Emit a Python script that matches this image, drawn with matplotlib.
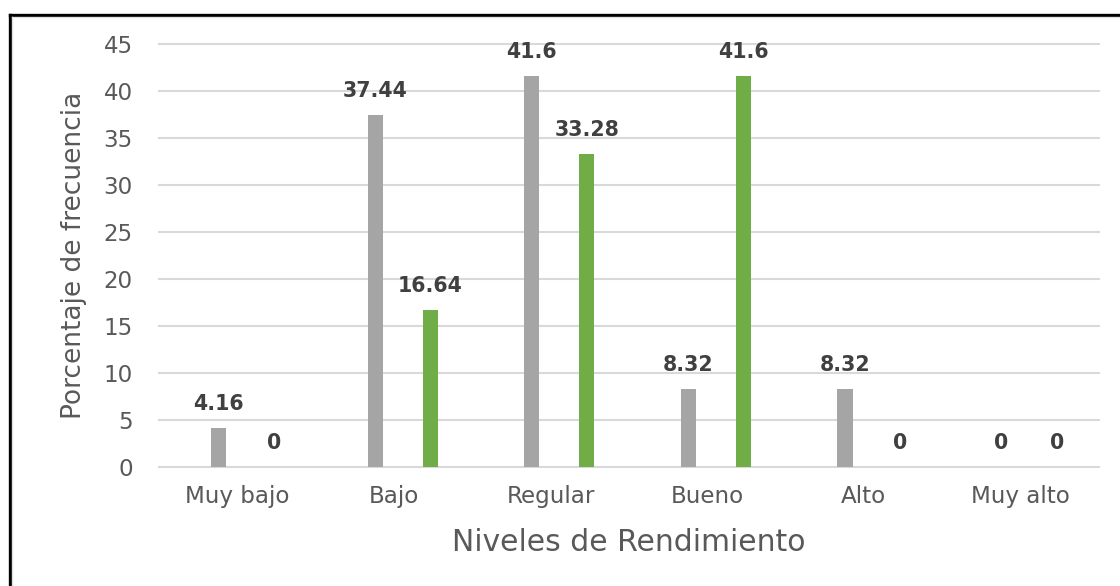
import matplotlib
matplotlib.use("Agg")
import matplotlib.pyplot as plt
from matplotlib.lines import Line2D
import numpy as np

categories = ["Muy bajo", "Bajo", "Regular", "Bueno", "Alto", "Muy alto"]
serie_gris = [4.16, 37.44, 41.6, 8.32, 8.32, 0]
serie_verde = [0, 16.64, 33.28, 41.6, 0, 0]
y_ticks = [0, 5, 10, 15, 20, 25, 30, 35, 40, 45]

plt.rcParams["font.family"] = ["DejaVu Sans"]

fig = plt.figure(figsize=(11.2, 5.86), dpi=100)
ax = fig.add_axes([0.142, 0.2031, 0.839, 0.7223])

x = np.arange(len(categories))
width = 0.096
off_gris = -0.12
off_verde = 0.232

bars_g = ax.bar(x + off_gris, serie_gris, width, color="#A5A5A5", zorder=3)
bars_v = ax.bar(x + off_verde, serie_verde, width, color="#70AD47", zorder=3)

for bars, vals in ((bars_g, serie_gris), (bars_v, serie_verde)):
    for b, v in zip(bars, vals):
        ax.annotate(f"{v:g}", (b.get_x() + b.get_width() / 2, v),
                    xytext=(0, 13), textcoords="offset points",
                    ha="center", va="baseline", fontsize=14.8,
                    fontweight="bold", color="#404040", zorder=4)

ax.set_xlim(-0.5, len(categories) - 0.5)
ax.set_ylim(0, 45)
ax.set_yticks(y_ticks)
ax.set_xticks(x)
ax.set_xticklabels(categories)
ax.yaxis.grid(True, color="#D9D9D9", linewidth=1.5, zorder=0)
for gl in ax.get_ygridlines():
    gl.set_clip_on(False)
ax.set_axisbelow(True)
for s in ax.spines.values():
    s.set_visible(False)
ax.tick_params(axis="both", length=0, colors="#595959", labelsize=16.6)
ax.tick_params(axis="x", pad=13)
ax.tick_params(axis="y", pad=19)

fig.text(0.5615, 1 - 551 / 586, "Niveles de Rendimiento", ha="center",
         va="baseline", fontsize=21.5, color="#595959")
fig.text(74 / 1120, 1 - 255 / 586, "Porcentaje de frecuencia", ha="center",
         va="center", rotation=90, fontsize=19, color="#595959")

# outer frame on the left and top edges
fig.add_artist(Line2D([9.5 / 1120, 9.5 / 1120], [0, 1 - 14.5 / 586],
                      transform=fig.transFigure, color="black", linewidth=2.4))
fig.add_artist(Line2D([9.5 / 1120, 1], [1 - 14.5 / 586, 1 - 14.5 / 586],
                      transform=fig.transFigure, color="black", linewidth=2.4))
fig.add_artist(Line2D([11.5 / 1120, 11.5 / 1120], [0, 1 - 16.5 / 586],
                      transform=fig.transFigure, color="#E0E0E0", linewidth=1))
fig.add_artist(Line2D([11.5 / 1120, 1], [1 - 16.5 / 586, 1 - 16.5 / 586],
                      transform=fig.transFigure, color="#E0E0E0", linewidth=1))

fig.savefig("out.png", dpi=100)
